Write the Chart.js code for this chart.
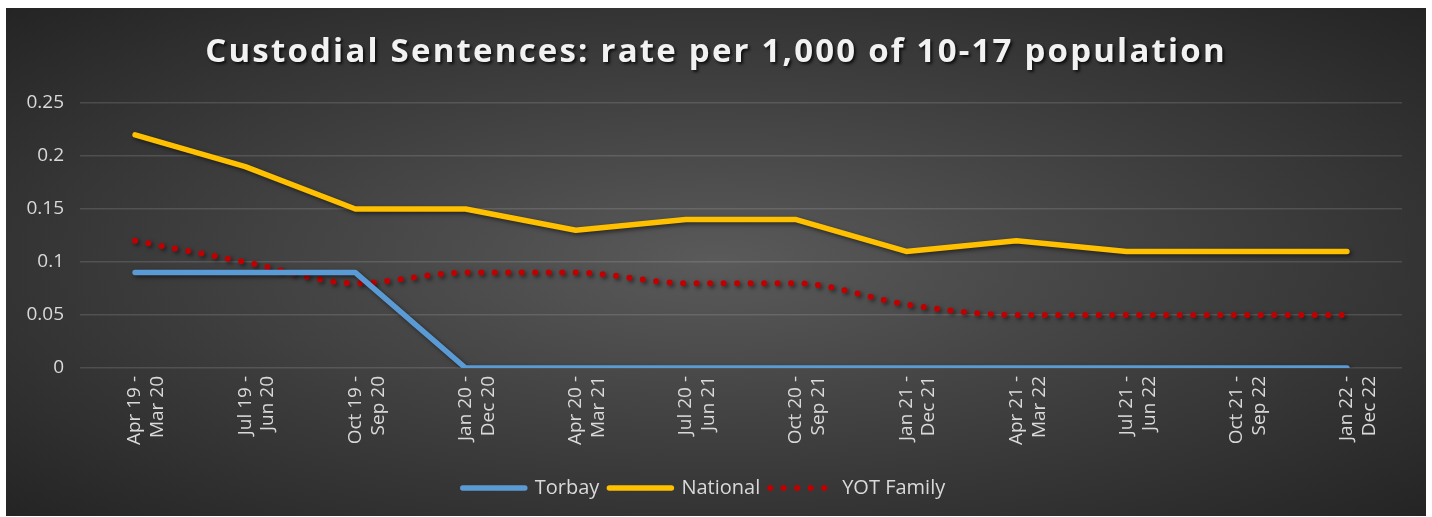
<!DOCTYPE html>
<html>
<head>
<meta charset="utf-8">
<script src="https://cdn.jsdelivr.net/npm/chart.js@4"></script>
<style>
    html, body { margin: 0; padding: 0; background: #ffffff; }
    #frame {
        position: absolute;
        left: 6px; top: 8px;
        width: 1420px; height: 508px;
        background: radial-gradient(ellipse farthest-corner at 50% 50%, #5a5a5a 0%, #3c3c3c 55%, #242424 100%);
    }
    #chart-title {
        position: absolute;
        left: 0; top: 19px; width: 100%;
        text-align: center;
        font-family: "Open Sans", sans-serif;
        font-weight: bold;
        font-size: 33px;
        letter-spacing: 2.2px;
        color: #f2f2f2;
        text-shadow: 2px 2px 3px rgba(0, 0, 0, 0.75);
    }
    #chart-canvas { position: absolute; left: 0; top: 0; }
</style>
</head>
<body>
<div id="frame">
    <canvas id="chart-canvas" width="1420" height="508"></canvas>
    <div id="chart-title">Custodial Sentences: rate per 1,000 of 10-17 population</div>
</div>
<script>
const periods = [
    ['Apr 19 -', 'Mar 20'], ['Jul 19 -', 'Jun 20'], ['Oct 19 -', 'Sep 20'], ['Jan 20 -', 'Dec 20'],
    ['Apr 20 -', 'Mar 21'], ['Jul 20 -', 'Jun 21'], ['Oct 20 -', 'Sep 21'], ['Jan 21 -', 'Dec 21'],
    ['Apr 21 -', 'Mar 22'], ['Jul 21 -', 'Jun 22'], ['Oct 21 -', 'Sep 22'], ['Jan 22 -', 'Dec 22']
];

const torbay = [0.09, 0.09, 0.09, 0, 0, 0, 0, 0, 0, 0, 0, 0];
const national = [0.22, 0.19, 0.15, 0.15, 0.13, 0.14, 0.14, 0.11, 0.12, 0.11, 0.11, 0.11];
const yotFamily = [0.12, 0.10, 0.08, 0.09, 0.09, 0.08, 0.08, 0.06, 0.05, 0.05, 0.05, 0.05];

const yTicks = [0, 0.05, 0.1, 0.15, 0.2, 0.25];

const textColor = '#d9d9d9';
const fontFamily = '"Open Sans", sans-serif';

// drop shadow under the series lines
const lineShadow = {
    id: 'lineShadow',
    beforeDatasetsDraw(chart) {
        const ctx = chart.ctx;
        ctx.save();
        ctx.shadowColor = 'rgba(0, 0, 0, 0.55)';
        ctx.shadowBlur = 4;
        ctx.shadowOffsetX = 2;
        ctx.shadowOffsetY = 2;
    },
    afterDatasetsDraw(chart) {
        chart.ctx.restore();
    }
};

// legend lines need the dataset dash and cap, which point-style labels drop
function legendLabels(chart) {
    const items = Chart.defaults.plugins.legend.labels.generateLabels(chart);
    items.forEach(item => {
        const ds = chart.data.datasets[item.datasetIndex];
        item.lineDash = ds.borderDash || [];
        item.lineCap = 'round';
        item.lineWidth = ds.borderWidth;
        item.strokeStyle = ds.borderColor;
    });
    return items;
}

const ctx = document.getElementById('chart-canvas').getContext('2d');

new Chart(ctx, {
    type: 'line',
    data: {
        labels: periods,
        datasets: [
            {
                label: 'Torbay',
                data: torbay,
                borderColor: '#5b9bd5',
                backgroundColor: '#5b9bd5',
                borderWidth: 5.5,
                borderCapStyle: 'round',
                borderJoinStyle: 'round',
                tension: 0
            },
            {
                label: 'National',
                data: national,
                borderColor: '#ffc000',
                backgroundColor: '#ffc000',
                borderWidth: 5.5,
                borderCapStyle: 'round',
                borderJoinStyle: 'round',
                tension: 0
            },
            {
                label: 'YOT Family',
                data: yotFamily,
                borderColor: '#c00000',
                backgroundColor: '#c00000',
                borderWidth: 6,
                borderCapStyle: 'round',
                borderDash: [0, 13.5],
                cubicInterpolationMode: 'monotone'
            }
        ]
    },
    options: {
        responsive: false,
        animation: false,
        pointRadius: 0,
        pointHoverRadius: 0,
        layout: {
            padding: { top: 95, right: 24, bottom: 8, left: 0 }
        },
        scales: {
            x: {
                offset: true,
                grid: { display: false, drawTicks: false },
                border: { display: false },
                ticks: {
                    color: textColor,
                    font: { family: fontFamily, size: 19 },
                    maxRotation: 90,
                    minRotation: 90,
                    autoSkip: false,
                    padding: 8
                },
                afterFit: (scale) => { scale.height = 100; }
            },
            y: {
                min: 0,
                max: 0.25,
                afterBuildTicks: (scale) => { scale.ticks = yTicks.map(v => ({ value: v })); },
                grid: { color: 'rgba(217, 217, 217, 0.16)', lineWidth: 1.5, drawTicks: false },
                border: { display: false },
                ticks: {
                    color: textColor,
                    font: { family: fontFamily, size: 19 },
                    padding: 16,
                    callback: (value) => String(value)
                },
                afterFit: (scale) => { scale.width = 74; }
            }
        },
        plugins: {
            legend: {
                position: 'bottom',
                labels: {
                    color: textColor,
                    font: { family: fontFamily, size: 20 },
                    usePointStyle: true,
                    pointStyle: 'line',
                    pointStyleWidth: 62,
                    boxHeight: 6,
                    padding: 10,
                    generateLabels: legendLabels
                }
            },
            tooltip: { enabled: false },
            title: { display: false }
        }
    },
    plugins: [lineShadow]
});
</script>
</body>
</html>
